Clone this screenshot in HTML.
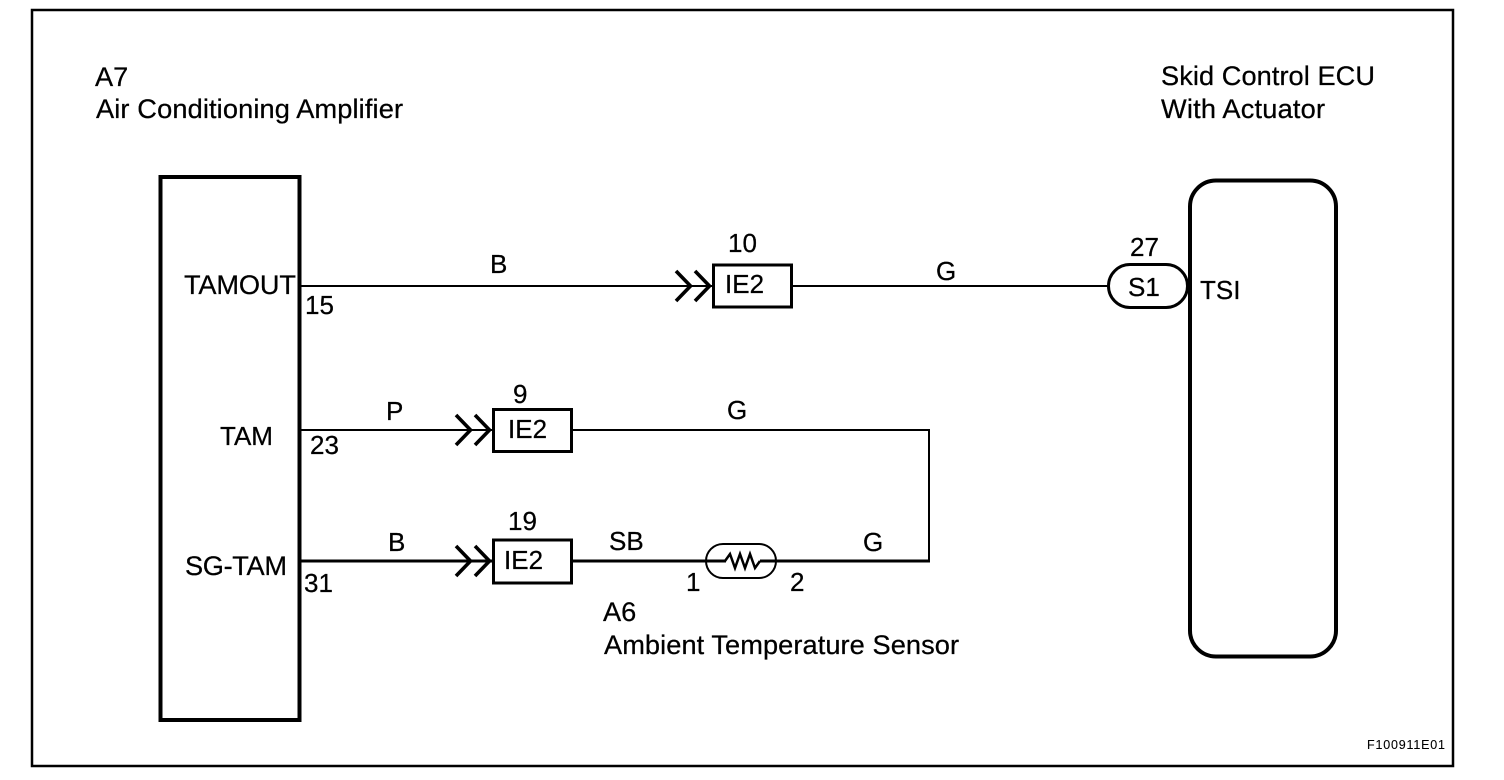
<!DOCTYPE html>
<html>
<head>
<meta charset="utf-8">
<style>
html,body{margin:0;padding:0;background:#fff;width:1504px;height:780px;overflow:hidden}
svg{display:block}
text{font-family:"Liberation Sans",Arial,sans-serif;font-size:26px;fill:#000;stroke:#000;stroke-width:.25px}
.w{font-size:27.2px}
.l{fill:none;stroke:#000;stroke-width:2;shape-rendering:crispEdges}
.c{fill:none;stroke:#000;stroke-width:3.6}
</style>
</head>
<body>
<svg width="1504" height="780" viewBox="0 0 1504 780" xmlns="http://www.w3.org/2000/svg">
<rect x="32" y="10" width="1421" height="756" fill="none" stroke="#000" stroke-width="2.5"/>

<rect x="160.500" y="177" width="139" height="543" fill="none" stroke="#000" stroke-width="4"/>
<rect x="1190" y="180.500" width="146" height="476" rx="26" ry="26" fill="none" stroke="#000" stroke-width="4"/>

<!-- wires -->
<line class="l" x1="300" y1="286" x2="712" y2="286"/>
<line class="l" x1="792" y1="286" x2="1108" y2="286"/>
<line class="l" x1="300" y1="430" x2="492" y2="430"/>
<line class="l" x1="572" y1="430" x2="930" y2="430"/>
<line class="l" x1="929" y1="429" x2="929" y2="562"/>
<line x1="300" y1="561" x2="492" y2="561" stroke="#000" stroke-width="3"/>
<line x1="572" y1="561" x2="726" y2="561" stroke="#000" stroke-width="3"/>
<line x1="760" y1="561" x2="930" y2="561" stroke="#000" stroke-width="3"/>

<!-- chevrons -->
<polyline class="c" points="676,271 690.500,286 676,301"/>
<polyline class="c" points="695,271 709.500,286 695,301"/>
<polyline class="c" points="456,415 470.500,430 456,445"/>
<polyline class="c" points="475,415 489.500,430 475,445"/>
<polyline class="c" points="456,546 470.500,561 456,576"/>
<polyline class="c" points="475,546 489.500,561 475,576"/>

<!-- connector boxes -->
<rect x="713.500" y="265" width="78" height="42" fill="#fff" stroke="#000" stroke-width="3"/>
<rect x="493.500" y="409.500" width="78" height="42" fill="#fff" stroke="#000" stroke-width="3"/>
<rect x="493.500" y="540" width="78" height="43" fill="#fff" stroke="#000" stroke-width="3"/>

<!-- S1 pill -->
<rect x="1108.500" y="264.500" width="79" height="43" rx="21.500" ry="21.500" fill="#fff" stroke="#000" stroke-width="3"/>

<!-- sensor -->
<rect x="706" y="544" width="70" height="34" rx="17" ry="17" fill="none" stroke="#000" stroke-width="2"/>
<polyline points="725,561 730,554 735,568 740,554 745,568 750,554 755,568 760,561" fill="none" stroke="#000" stroke-width="2.500"/>

<!-- labels -->
<text x="95" y="86" class="w">A7</text>
<text x="96" y="118" class="w" textLength="307" lengthAdjust="spacing">Air Conditioning Amplifier</text>
<text x="1161" y="85" class="w" textLength="214" lengthAdjust="spacing">Skid Control ECU</text>
<text x="1161" y="118" class="w" textLength="164" lengthAdjust="spacing">With Actuator</text>

<text x="184" y="294" class="w" textLength="112" lengthAdjust="spacing">TAMOUT</text>
<text x="220" y="445">TAM</text>
<text x="185" y="575" class="w" textLength="102" lengthAdjust="spacing">SG-TAM</text>

<text x="305" y="314">15</text>
<text x="310" y="454">23</text>
<text x="304" y="592">31</text>

<text x="490" y="273">B</text>
<text x="386" y="420">P</text>
<text x="388" y="551">B</text>

<text x="728" y="252">10</text>
<text x="513" y="403">9</text>
<text x="508" y="530">19</text>

<text x="725" y="293">IE2</text>
<text x="508" y="438">IE2</text>
<text x="504" y="569">IE2</text>

<text x="936" y="280">G</text>
<text x="727" y="419">G</text>
<text x="609" y="550">SB</text>
<text x="863" y="551">G</text>

<text x="1130" y="256">27</text>
<text x="1128" y="296">S1</text>
<text x="1200" y="299">TSI</text>

<text x="686" y="591">1</text>
<text x="790" y="591">2</text>
<text x="603" y="621" class="w">A6</text>
<text x="604" y="654" class="w" textLength="355" lengthAdjust="spacing">Ambient Temperature Sensor</text>

<text x="1367" y="749" style="font-size:12.500px;stroke-width:.1px" textLength="78" lengthAdjust="spacing">F100911E01</text>
</svg>
</body>
</html>
